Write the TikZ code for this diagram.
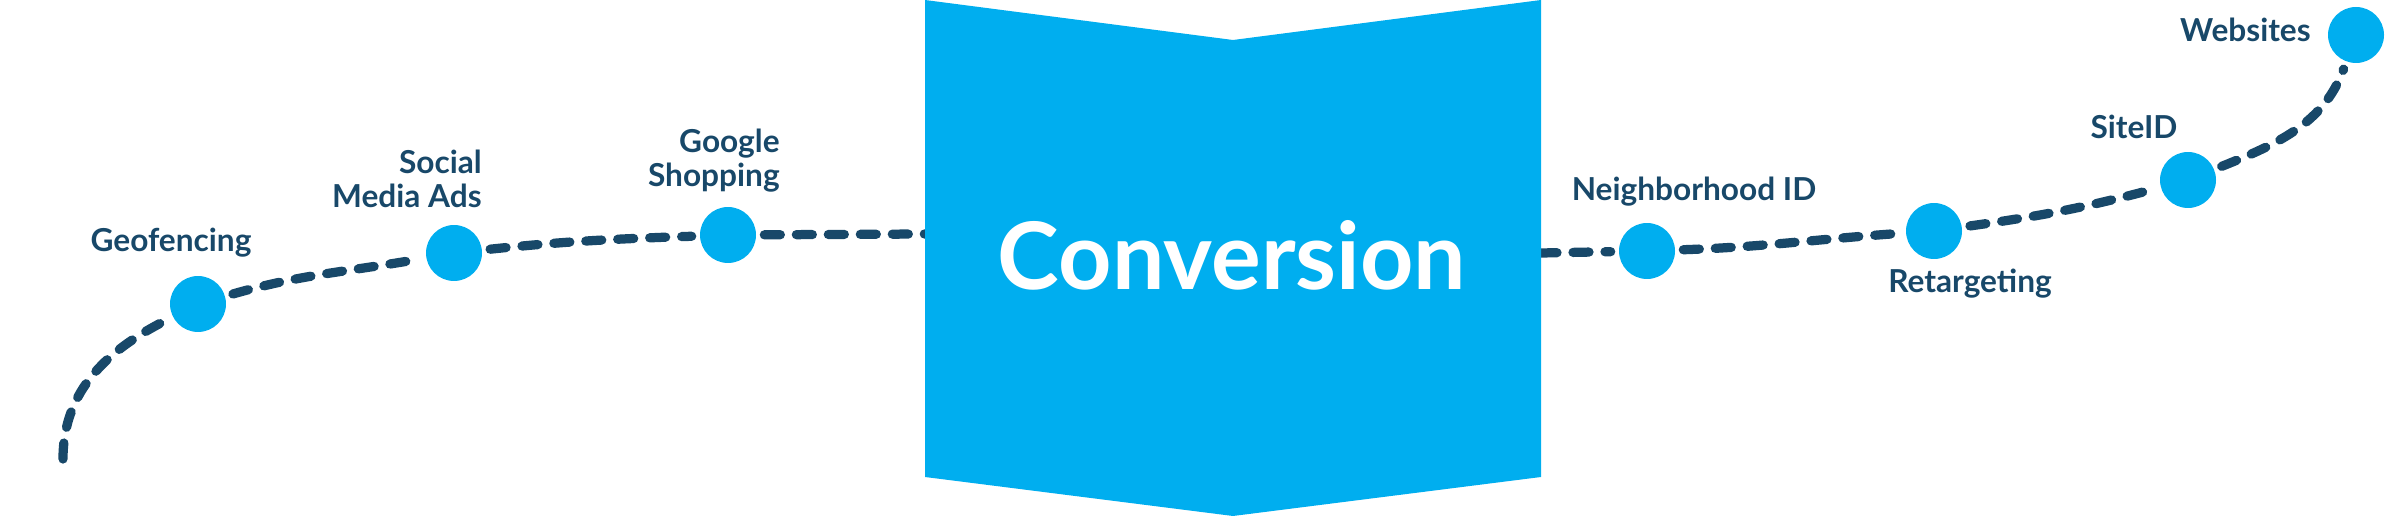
\documentclass[tikz,border=0pt]{standalone}
\usepackage{fontspec}
\setmainfont{Lato}
\usetikzlibrary{positioning}
\definecolor{cvblue}{RGB}{0,174,239}
\definecolor{cvnavy}{RGB}{24,72,105}

\begin{document}
\begin{tikzpicture}[
		x=0.02cm,
		y=0.02cm,
		stop/.style={
			fill=cvblue,
			circle,
			minimum size=1.12cm,
			inner sep=0pt
		},
		route/.style={
			draw=cvnavy,
			line width=0.185cm,
			line cap=round,
			dash pattern=on 0.32cm off 0.32cm,
			shorten <=0.16cm,
			shorten >=0.16cm
		},
		lbl/.style={
			text=cvnavy,
			font=\fontsize{18}{19.5}\selectfont\bfseries,
			inner sep=0pt
		}
		]
		\useasboundingbox (0,0) rectangle (2400,517);
		\coordinate (start) at (63,58);
		\coordinate (boxW) at (925,283);
		\coordinate (boxE) at (1541,264);
		\node[stop] (geo) at (198,213) {};
		\node[stop] (social) at (454,264) {};
		\node[stop] (google) at (728,282) {};
		\node[stop] (nbh) at (1647,266) {};
		\node[stop] (retarget) at (1934,286) {};
		\node[stop] (siteid) at (2188,337) {};
		\node[stop] (web) at (2356,482) {};
		\draw[route, shorten <=0pt] (start) to[out=90, in=207] (geo);
		\draw[route] (geo) to[out=16, in=190] (social);
		\draw[route] (social) to[out=6, in=182] (google);
		\draw[route, shorten >=0pt] (google) -- (boxW);
		\draw[route, shorten <=0pt] (boxE) -- (nbh);
		\draw[route] (nbh) to[out=2, in=184] (retarget);
		\draw[route] (retarget) to[out=8, in=195] (siteid);
		\draw[route] (siteid) to[out=22, in=250] (web);
		\fill[cvblue] (925,517) -- (1233,477) -- (1541,517) -- (1541,40) -- (1233,1) -- (925,40) -- cycle;
		\node[text=white, font=\fontsize{53}{60}\selectfont\bfseries, inner sep=0pt, anchor=base] (conv) at (1232,227) {Conversion};
		\node[lbl, anchor=base] (geoL) at (171,265) {Geofencing};
		\node[lbl, align=right, anchor=base east] (socialL) at (482,309) {Social\\Media Ads};
		\node[lbl, align=right, anchor=base east] (googleL) at (780,330) {Google\\Shopping};
		\node[lbl, anchor=base] (nbhL) at (1694,316) {Neighborhood ID};
		\node[lbl, anchor=base] (retargetL) at (1970,224) {Retargeting};
		\node[lbl, anchor=base] (siteidL) at (2134,378) {SiteID};
		\node[lbl, anchor=base east] (webL) at (2311,475) {Websites};
\end{tikzpicture}
\end{document}
